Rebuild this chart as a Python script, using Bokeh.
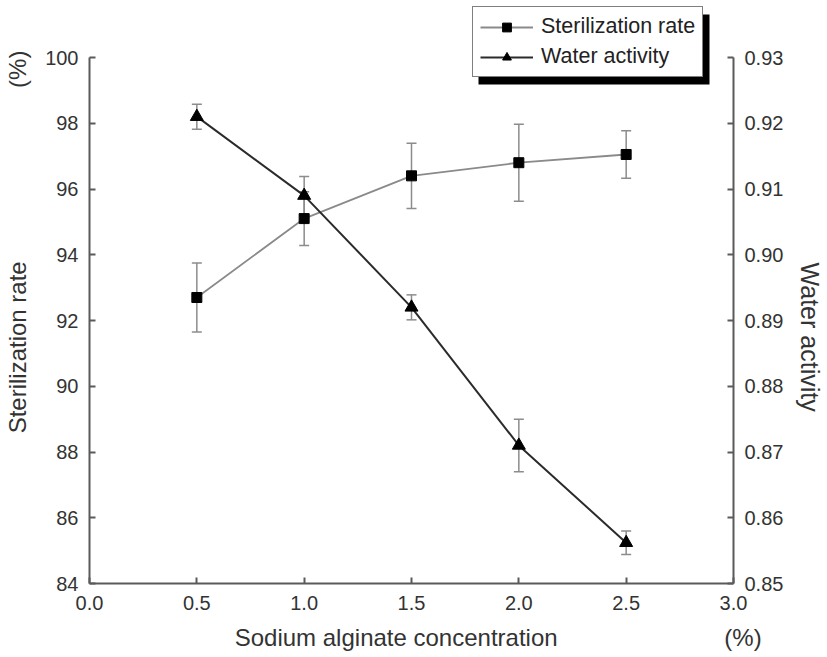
from bokeh.plotting import figure
from bokeh.models import (Range1d, LinearAxis, FixedTicker, Whisker, TeeHead,
                          ColumnDataSource, Legend, LegendItem, PrintfTickFormatter,
                          BoxAnnotation)
from bokeh.embed import file_html
from bokeh.resources import INLINE

# ---- data ----
conc = [0.5, 1.0, 1.5, 2.0, 2.5]
steril = [92.7, 95.1, 96.4, 96.8, 97.05]
steril_err = [1.05, 0.82, 0.99, 1.17, 0.72]
aw = [0.921, 0.909, 0.892, 0.871, 0.8562]
aw_err = [0.0019, 0.0029, 0.0019, 0.004, 0.0018]

x_ticks = [0.0, 0.5, 1.0, 1.5, 2.0, 2.5, 3.0]
left_ticks = [84, 86, 88, 90, 92, 94, 96, 98, 100]
right_ticks = [0.85, 0.86, 0.87, 0.88, 0.89, 0.90, 0.91, 0.92, 0.93]

series_names = ["Sterilization rate", "Water activity"]
x_title = "Sodium alginate concentration"
unit = "(%)"

FONT = "Liberation Sans"
AXC = "#5a5a5a"
TXT = "#333333"
NB = "\u00a0"

# frame extends above the top tick (100 / 0.93) so the legend can sit there
FRAME_H = 583.0
PX_PER_UNIT = (583.0 - 57.0) / (left_ticks[-1] - left_ticks[0])
y_top = left_ticks[0] + FRAME_H / PX_PER_UNIT
r_scale = (right_ticks[-1] - right_ticks[0]) / (left_ticks[-1] - left_ticks[0])
r_top = right_ticks[0] + (y_top - left_ticks[0]) * r_scale

p = figure(width=827, height=657, output_backend="svg", toolbar_location=None,
           x_range=Range1d(x_ticks[0], x_ticks[-1]),
           y_range=Range1d(left_ticks[0], y_top),
           min_border_left=89, min_border_right=91, min_border_top=0,
           min_border_bottom=74)
p.extra_y_ranges = {"aw": Range1d(right_ticks[0], r_top)}
p.outline_line_color = None
p.grid.visible = False
p.background_fill_color = "white"
p.border_fill_color = "white"

def style_axis(ax, standoff, label, label_standoff, label_size="24px"):
    ax.axis_line_color = AXC
    ax.axis_line_width = 2
    ax.major_tick_line_color = AXC
    ax.major_tick_line_width = 2
    ax.major_tick_in = 6
    ax.major_tick_out = 0
    ax.minor_tick_line_color = None
    ax.major_label_text_font = FONT
    ax.major_label_text_font_size = "20px"
    ax.major_label_text_color = TXT
    ax.major_label_standoff = standoff
    ax.axis_label = label
    ax.axis_label_text_font = FONT
    ax.axis_label_text_font_size = label_size
    ax.axis_label_text_font_style = "normal"
    ax.axis_label_text_color = TXT
    ax.axis_label_text_line_height = 1.0
    ax.axis_label_standoff = label_standoff

xlabel = NB * 26 + x_title + NB * 25 + unit
style_axis(p.xaxis[0], 12, xlabel, 11)
p.xaxis[0].ticker = FixedTicker(ticks=x_ticks)
p.xaxis[0].formatter = PrintfTickFormatter(format="%.1f")

ylabel = NB * 15 + series_names[0] + NB * 26 + unit
style_axis(p.yaxis[0], 11, ylabel, 11)
p.yaxis[0].ticker = FixedTicker(ticks=left_ticks)
p.yaxis[0].bounds = (left_ticks[0], left_ticks[-1])

raxis = LinearAxis(y_range_name="aw", ticker=FixedTicker(ticks=right_ticks),
                   formatter=PrintfTickFormatter(format="%.2f"))
style_axis(raxis, 11, NB * 13 + series_names[1], 10, "25px")
raxis.bounds = (right_ticks[0], right_ticks[-1])
p.add_layout(raxis, "right")

src_s = ColumnDataSource(dict(x=conc, y=steril,
                              lo=[a - b for a, b in zip(steril, steril_err)],
                              hi=[a + b for a, b in zip(steril, steril_err)]))
src_w = ColumnDataSource(dict(x=conc, y=aw,
                              lo=[a - b for a, b in zip(aw, aw_err)],
                              hi=[a + b for a, b in zip(aw, aw_err)]))

ERR = "#8c8c8c"
for src, rn in ((src_s, "default"), (src_w, "aw")):
    w = Whisker(source=src, base="x", lower="lo", upper="hi", dimension="height",
                line_color=ERR, line_width=1.5,
                upper_head=TeeHead(size=10, line_color=ERR, line_width=1.5),
                lower_head=TeeHead(size=10, line_color=ERR, line_width=1.5))
    w.y_range_name = rn
    p.add_layout(w)

l1 = p.line("x", "y", source=src_s, line_color="#8a8a8a", line_width=1.8)
m1 = p.scatter("x", "y", source=src_s, marker="square", size=10,
               fill_color="black", line_color="black")
l2 = p.line("x", "y", source=src_w, y_range_name="aw", line_color="#2b2b2b",
            line_width=2)
m2 = p.scatter("x", "y", source=src_w, y_range_name="aw", marker="triangle",
               size=13, fill_color="black", line_color="black")

# legend drop shadow (screen units, frame-relative like the legend location)
LEG_X, LEG_Y, LEG_W, LEG_H = 383, 506, 231, 70
shadow = BoxAnnotation(left=LEG_X + 6, right=LEG_X + 6 + LEG_W,
                       bottom=LEG_Y - 7, top=LEG_Y - 7 + LEG_H,
                       left_units="screen", right_units="screen",
                       bottom_units="screen", top_units="screen",
                       fill_color="black", fill_alpha=1.0, line_color=None)
p.add_layout(shadow)

lg = Legend(items=[LegendItem(label=series_names[0], renderers=[l1, m1]),
                   LegendItem(label=series_names[1], renderers=[l2, m2])],
            location=(LEG_X, LEG_Y), orientation="vertical")
lg.label_text_font = FONT
lg.label_text_font_size = "21.5px"
lg.label_text_color = "#222222"
lg.border_line_color = "black"
lg.border_line_width = 1
lg.background_fill_color = "white"
lg.background_fill_alpha = 1.0
lg.glyph_width = 53
lg.glyph_height = 22
lg.label_height = 22
lg.label_standoff = 8
lg.spacing = 5
lg.padding = 7
lg.margin = 0
p.add_layout(lg)

open("out.html", "w").write(file_html(p, INLINE))
